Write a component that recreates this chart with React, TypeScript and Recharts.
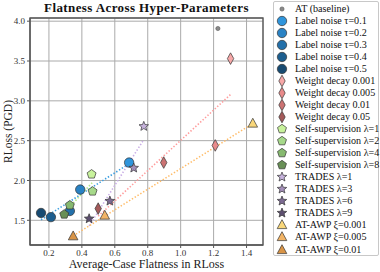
import React from "react";
import {
  ScatterChart,
  Scatter,
  XAxis,
  YAxis,
  CartesianGrid,
  ReferenceArea,
  Label,
} from "recharts";

const FONT = '"Liberation Serif", "DejaVu Serif", serif';

// axis setup
const xDomain = [0.085, 1.5];
const yDomain = [1.19, 4.04];
const xTicks = [0.2, 0.4, 0.6, 0.8, 1.0, 1.2, 1.4];
const yTicks = [1.5, 2.0, 2.5, 3.0, 3.5, 4.0];

// AT (baseline)
const baseLabels = ["AT (baseline)"];
const baseX = [1.226];
const baseY = [3.908];
const baseColors = ["#8a8a8a"];

// label noise
const noiseLabels = ["Label noise τ=0.1", "Label noise τ=0.2", "Label noise τ=0.3", "Label noise τ=0.4", "Label noise τ=0.5"];
const noiseX = [0.687, 0.39, 0.327, 0.212, 0.152];
const noiseY = [2.225, 1.886, 1.617, 1.54, 1.592];
const noiseColors = ["#2f95dc", "#2982c4", "#2370aa", "#1c5e8f", "#174b72"];

// weight decay
const wdLabels = ["Weight decay 0.001", "Weight decay 0.005", "Weight decay 0.01", "Weight decay 0.05"];
const wdX = [1.303, 1.21, 0.897, 0.499];
const wdY = [3.53, 2.44, 2.225, 1.647];
const wdColors = ["#f7a8a8", "#e98b8b", "#cc7373", "#a45a5a"];

// self-supervision
const ssLabels = ["Self-supervision λ=1", "Self-supervision λ=2", "Self-supervision λ=4", "Self-supervision λ=8"];
const ssX = [0.459, 0.465, 0.327, 0.293];
const ssY = [2.078, 1.864, 1.69, 1.575];
const ssColors = ["#c8f29c", "#a6d98a", "#86b96f", "#688f56"];

// TRADES
const trLabels = ["TRADES λ=1", "TRADES λ=3", "TRADES λ=6", "TRADES λ=9"];
const trX = [0.776, 0.715, 0.57, 0.444];
const trY = [2.68, 2.157, 1.742, 1.52];
const trColors = ["#c6b2dc", "#a48fb9", "#7d6b93", "#5d4f70"];

// AT-AWP
const awpLabels = ["AT-AWP ξ=0.001", "AT-AWP ξ=0.005", "AT-AWP ξ=0.01"];
const awpX = [1.438, 0.539, 0.347];
const awpY = [2.715, 1.56, 1.3];
const awpColors = ["#f9d77a", "#f2b466", "#d99446"];

type Kind = "dot" | "circle" | "diamond" | "pentagon" | "star" | "triangle";

const groups = [
  { key: "base", kind: "dot" as Kind, labels: baseLabels, xs: baseX, ys: baseY, colors: baseColors, trend: null },
  { key: "noise", kind: "circle" as Kind, labels: noiseLabels, xs: noiseX, ys: noiseY, colors: noiseColors, trend: "#3a9ee0" },
  { key: "wd", kind: "diamond" as Kind, labels: wdLabels, xs: wdX, ys: wdY, colors: wdColors, trend: "#ff9c9c" },
  { key: "ss", kind: "pentagon" as Kind, labels: ssLabels, xs: ssX, ys: ssY, colors: ssColors, trend: "#b6e986" },
  { key: "tr", kind: "star" as Kind, labels: trLabels, xs: trX, ys: trY, colors: trColors, trend: "#c9aee6" },
  { key: "awp", kind: "triangle" as Kind, labels: awpLabels, xs: awpX, ys: awpY, colors: awpColors, trend: "#ffbb66" },
];

// least squares fit, from min x to max x
function fitLine(xs: number[], ys: number[]) {
  const n = xs.length;
  const mx = xs.reduce((a, b) => a + b, 0) / n;
  const my = ys.reduce((a, b) => a + b, 0) / n;
  let sxy = 0;
  let sxx = 0;
  xs.forEach((x, i) => {
    sxy += (x - mx) * (ys[i] - my);
    sxx += (x - mx) * (x - mx);
  });
  const k = sxy / sxx;
  const x0 = Math.min(...xs);
  const x1 = Math.max(...xs);
  return [
    { x: x0, y: my + k * (x0 - mx) },
    { x: x1, y: my + k * (x1 - mx) },
  ];
}

function Marker({ kind, cx, cy, fill }: { kind: Kind; cx: number; cy: number; fill: string }) {
  const stroke = "#333";
  const sw = 0.7;
  if (kind === "dot") {
    return <circle cx={cx} cy={cy} r={2.1} fill={fill} stroke="#555" strokeWidth={0.6} />;
  }
  if (kind === "circle") {
    return <circle cx={cx} cy={cy} r={4.7} fill={fill} stroke={stroke} strokeWidth={sw} />;
  }
  let pts: number[][] = [];
  if (kind === "diamond") {
    pts = [[cx, cy - 5.8], [cx + 3.2, cy], [cx, cy + 5.8], [cx - 3.2, cy]];
  } else if (kind === "pentagon") {
    for (let i = 0; i < 5; i++) {
      const a = -Math.PI / 2 + (i * 2 * Math.PI) / 5;
      pts.push([cx + 4.7 * Math.cos(a), cy + 4.7 * Math.sin(a)]);
    }
  } else if (kind === "star") {
    for (let i = 0; i < 10; i++) {
      const a = -Math.PI / 2 + (i * Math.PI) / 5;
      const r = i % 2 === 0 ? 5 : 2.2;
      pts.push([cx + r * Math.cos(a), cy + r * Math.sin(a)]);
    }
  } else {
    pts = [[cx, cy - 5.3], [cx + 4.8, cy + 3.6], [cx - 4.8, cy + 3.6]];
  }
  return (
    <polygon
      points={pts.map((p) => p.join(",")).join(" ")}
      fill={fill}
      stroke={stroke}
      strokeWidth={sw}
      strokeLinejoin="miter"
    />
  );
}

function LegendBox() {
  const rows = groups.flatMap((g) => g.labels.map((l, i) => ({ label: l, kind: g.kind, color: g.colors[i] })));
  return (
    <div
      style={{
        position: "absolute",
        left: 273,
        top: 1,
        width: 106,
        height: 255,
        border: "1px solid #c8c8c8",
        borderRadius: 2,
        background: "#fff",
        boxSizing: "border-box",
        fontFamily: FONT,
        fontSize: 10.1,
        color: "#111",
      }}
    >
      {rows.map((r, i) => (
        <div
          key={r.label}
          style={{ position: "absolute", left: 0, top: 0.5 + i * 12.05, height: 12, width: 106, whiteSpace: "nowrap" }}
        >
          <svg width={16} height={12} style={{ position: "absolute", left: 0, top: 0 }}>
            <Marker kind={r.kind} cx={8} cy={6} fill={r.color} />
          </svg>
          <span style={{ position: "absolute", left: 21, top: 0, lineHeight: "12px" }}>{r.label}</span>
        </div>
      ))}
    </div>
  );
}

function YTitle({ viewBox }: any) {
  const cy = viewBox.y + viewBox.height / 2;
  return (
    <text
      x={11.5}
      y={cy}
      transform={`rotate(-90, 11.5, ${cy})`}
      textAnchor="middle"
      style={{ fontSize: 11.5, fill: "#222", fontFamily: FONT }}
    >
      RLoss (PGD)
    </text>
  );
}

function XTitle({ viewBox }: any) {
  return (
    <text
      x={viewBox.x + viewBox.width / 2}
      y={268}
      textAnchor="middle"
      style={{ fontSize: 12, fill: "#222", fontFamily: FONT }}
    >
      Average-Case Flatness in RLoss
    </text>
  );
}

export default function App() {
  const tickStyle = { fontSize: 9, fill: "#333", fontFamily: FONT };
  return (
    <div style={{ position: "absolute", left: 0, top: 0, width: 380, height: 272, background: "#fff" }}>
      <div
        style={{
          position: "absolute",
          left: 30,
          width: 233,
          top: 0,
          textAlign: "center",
          fontFamily: FONT,
          fontWeight: "bold",
          fontSize: 13,
          letterSpacing: 0.4,
          color: "#111",
        }}
      >
        Flatness Across Hyper-Parameters
      </div>
      <ScatterChart width={380} height={272} margin={{ top: 18, right: 117, bottom: 0, left: 0 }}>
        <CartesianGrid stroke="#aaaaaa" strokeWidth={1} />
        <XAxis
          type="number"
          dataKey="x"
          domain={xDomain}
          ticks={xTicks}
          allowDataOverflow
          height={27}
          tick={tickStyle}
          tickFormatter={(v: number) => v.toFixed(1)}
          tickSize={3}
          stroke="#555"
        >
          <Label content={XTitle} />
        </XAxis>
        <YAxis
          type="number"
          dataKey="y"
          domain={yDomain}
          ticks={yTicks}
          allowDataOverflow
          width={30}
          tick={tickStyle}
          tickFormatter={(v: number) => v.toFixed(1)}
          tickSize={3}
          stroke="#555"
        >
          <Label content={YTitle} />
        </YAxis>
        <ReferenceArea
          x1={xDomain[0]}
          x2={xDomain[1]}
          y1={yDomain[0]}
          y2={yDomain[1]}
          fill="none"
          stroke="#555"
          strokeWidth={1.3}
        />
        {groups
          .filter((g) => g.trend)
          .map((g) => (
            <Scatter
              key={"trend-" + g.key}
              data={fitLine(g.xs, g.ys)}
              line={{ stroke: g.trend as string, strokeWidth: 1.6, strokeDasharray: "1.4 1.9" }}
              shape={() => <g />}
              isAnimationActive={false}
            />
          ))}
        {groups.map((g) => (
          <Scatter
            key={g.key}
            data={g.xs.map((x, i) => ({ x, y: g.ys[i], color: g.colors[i] }))}
            shape={(p: any) => <Marker kind={g.kind} cx={p.cx} cy={p.cy} fill={p.payload.color} />}
            isAnimationActive={false}
          />
        ))}
      </ScatterChart>
      <LegendBox />
    </div>
  );
}
